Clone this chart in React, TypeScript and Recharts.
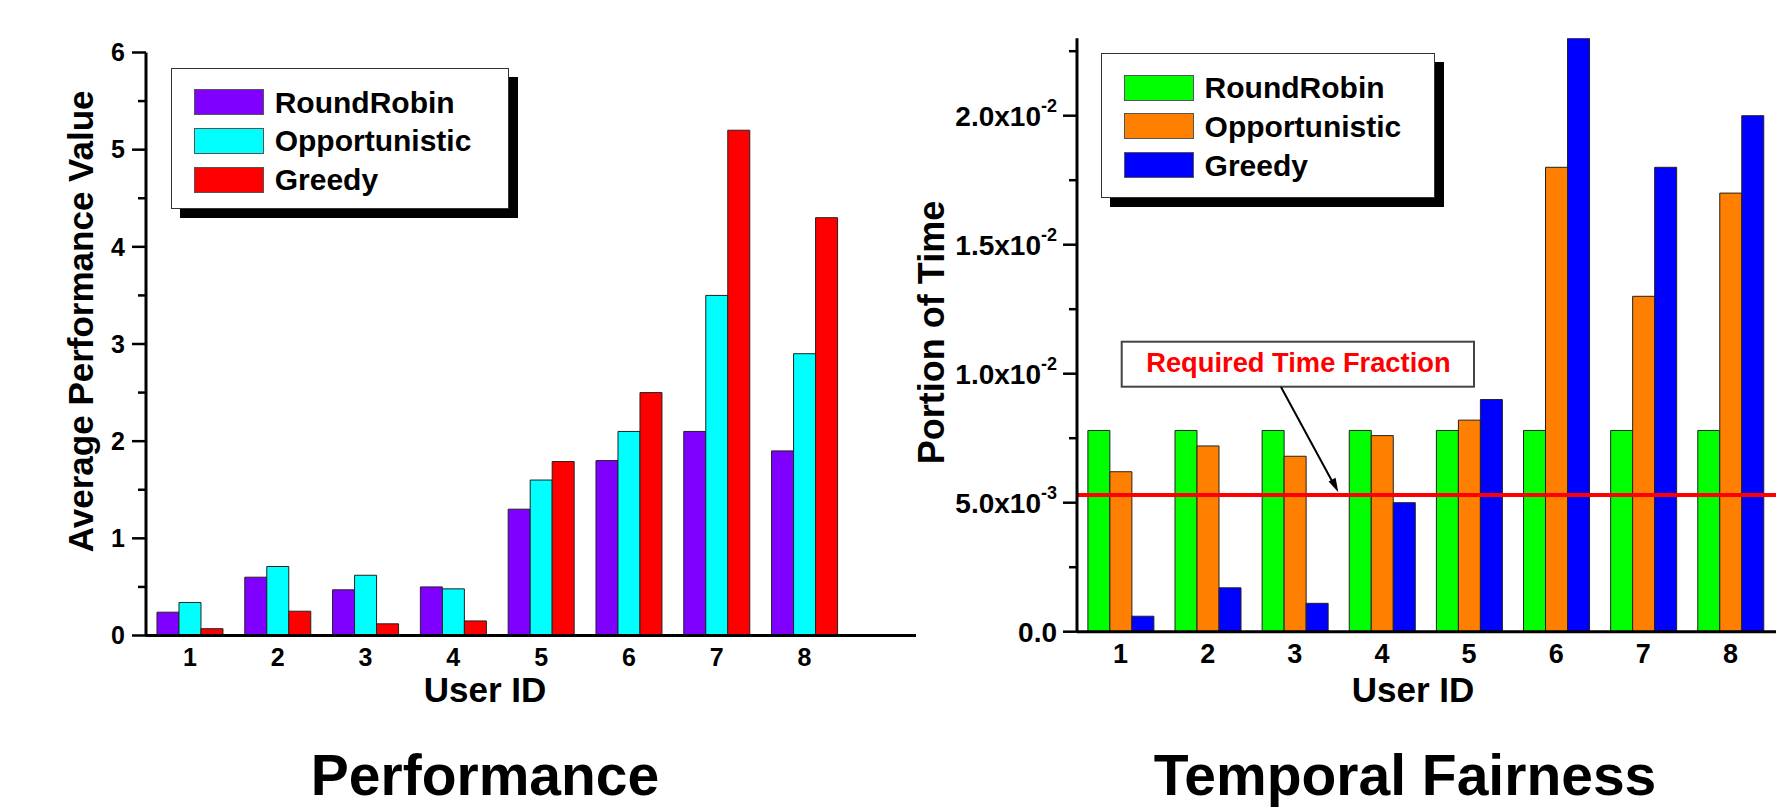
import React from "react";
import { ComposedChart, Bar, XAxis, YAxis, Legend, ReferenceLine } from "recharts";

// Two Origin-style grouped bar charts: performance and temporal fairness per user.

const FONT = "'Liberation Sans', Arial, Helvetica, sans-serif";

const users = ["1", "2", "3", "4", "5", "6", "7", "8"];
const seriesNames = ["RoundRobin", "Opportunistic", "Greedy"];

// left panel: average performance value
const perfRoundRobin = [0.24, 0.6, 0.47, 0.5, 1.3, 1.8, 2.1, 1.9];
const perfOpportunistic = [0.34, 0.71, 0.62, 0.48, 1.6, 2.1, 3.5, 2.9];
const perfGreedy = [0.07, 0.25, 0.12, 0.15, 1.79, 2.5, 5.2, 4.3];
const perfTicks = [0, 0.5, 1, 1.5, 2, 2.5, 3, 3.5, 4, 4.5, 5, 5.5, 6];

// right panel: portion of time
const timeRoundRobin = [0.0078, 0.0078, 0.0078, 0.0078, 0.0078, 0.0078, 0.0078, 0.0078];
const timeOpportunistic = [0.0062, 0.0072, 0.0068, 0.0076, 0.0082, 0.018, 0.013, 0.017];
const timeGreedy = [0.0006, 0.0017, 0.0011, 0.005, 0.009, 0.023, 0.018, 0.02];
const timeTicks = [0, 0.0025, 0.005, 0.0075, 0.01, 0.0125, 0.015, 0.0175, 0.02, 0.0225];
const timeMantissa = ["0.0", "5.0x10", "1.0x10", "1.5x10", "2.0x10"];
const timeExponent = ["", "-3", "-2", "-2", "-2"];
const requiredFraction = 0.0053;

const perfData = users.map((user, i) => ({
  user,
  rr: perfRoundRobin[i],
  opp: perfOpportunistic[i],
  greedy: perfGreedy[i],
}));

const timeData = users.map((user, i) => ({
  user,
  rr: timeRoundRobin[i],
  opp: timeOpportunistic[i],
  greedy: timeGreedy[i],
}));

const axisLine = { stroke: "#000", strokeWidth: 3 };

function BoxLegend(props: any) {
  const payload = [...(props.payload || [])].sort(
    (a: any, b: any) => seriesNames.indexOf(a.value) - seriesNames.indexOf(b.value)
  );
  return (
    <div
      style={{
        position: "relative",
        width: "100%",
        height: "100%",
        boxSizing: "border-box",
        background: "#fff",
        border: "1.5px solid #333",
        boxShadow: "9px 9px 0 #000",
        fontFamily: FONT,
        fontWeight: 700,
        fontSize: 30,
        color: "#000",
      }}
    >
      {payload.map((entry: any, i: number) => (
        <div
          key={entry.value}
          style={{ position: "absolute", left: 22, top: 20 + i * 38.7, height: 27, display: "flex", alignItems: "center", whiteSpace: "nowrap" }}
        >
          <span style={{ display: "inline-block", width: 70, height: 26, boxSizing: "border-box", background: entry.color, border: "1.5px solid #555" }} />
          <span style={{ marginLeft: 11, lineHeight: "27px" }}>{entry.value}</span>
        </div>
      ))}
    </div>
  );
}

function XTick({ x, y, payload, size, drop }: any) {
  return (
    <text x={x} y={y + drop} textAnchor="middle" fontSize={size} fontWeight={700} fontFamily={FONT} fill="#000">
      {payload.value}
    </text>
  );
}

function PerfYTick({ x, y, payload }: any) {
  const major = Number.isInteger(payload.value);
  return (
    <g>
      <line x1={x - (major ? 14 : 8)} x2={x} y1={y} y2={y} stroke="#000" strokeWidth={2.5} />
      {major && (
        <text x={x - 21} y={y + 8.8} textAnchor="end" fontSize={25} fontWeight={700} fontFamily={FONT} fill="#000">
          {payload.value}
        </text>
      )}
    </g>
  );
}

function TimeYTick({ x, y, payload }: any) {
  const idx = timeTicks.indexOf(payload.value);
  const major = idx % 2 === 0;
  const k = idx / 2;
  return (
    <g>
      <line x1={x - (major ? 14 : 8)} x2={x} y1={y} y2={y} stroke="#000" strokeWidth={2.5} />
      {major && (
        <text x={x - 20} y={y + 10} textAnchor="end" fontSize={28} fontWeight={700} fontFamily={FONT} fill="#000">
          <tspan>{timeMantissa[k]}</tspan>
          {timeExponent[k] ? (
            <tspan dy={-14} fontSize={18}>
              {timeExponent[k]}
            </tspan>
          ) : null}
        </text>
      )}
    </g>
  );
}

function PerformanceChart() {
  return (
    <ComposedChart
      width={930}
      height={811}
      data={perfData}
      margin={{ top: 52.5, right: 14, bottom: 0, left: 0 }}
      barCategoryGap="12.5%"
      barGap={0}
    >
      <XAxis
        dataKey="user"
        height={175.5}
        axisLine={axisLine}
        tickLine={false}
        tickSize={0}
        tickMargin={0}
        interval={0}
        padding={{ left: 0, right: 67.6 }}
        tick={(p: any) => <XTick {...p} size={25} drop={30.5} />}
      />
      <YAxis
        width={146}
        domain={[0, 6]}
        ticks={perfTicks}
        interval={0}
        allowDataOverflow
        axisLine={axisLine}
        tickLine={false}
        tickSize={0}
        tickMargin={0}
        tick={(p: any) => <PerfYTick {...p} />}
      />
      <Legend
        layout="vertical"
        align="center"
        verticalAlign="middle"
        content={(p: any) => <BoxLegend {...p} />}
        wrapperStyle={{ left: 170.7, top: 67.7, width: 338.3, height: 141.3 }}
      />
      <Bar dataKey="rr" name={seriesNames[0]} fill="#8000ff" stroke="#222" strokeWidth={1} isAnimationActive={false} />
      <Bar dataKey="opp" name={seriesNames[1]} fill="#00ffff" stroke="#222" strokeWidth={1} isAnimationActive={false} />
      <Bar dataKey="greedy" name={seriesNames[2]} fill="#ff0000" stroke="#222" strokeWidth={1} isAnimationActive={false} />
    </ComposedChart>
  );
}

function FairnessChart() {
  return (
    <ComposedChart
      width={890}
      height={811}
      data={timeData}
      margin={{ top: 38.3, right: 14, bottom: 0, left: 0 }}
      barCategoryGap="12.5%"
      barGap={0}
    >
      <XAxis
        dataKey="user"
        height={179.3}
        axisLine={axisLine}
        tickLine={false}
        tickSize={0}
        tickMargin={0}
        interval={0}
        padding={{ left: 0, right: 2 }}
        tick={(p: any) => <XTick {...p} size={27} drop={31.5} />}
      />
      <YAxis
        width={177}
        domain={[0, 0.023]}
        ticks={timeTicks}
        interval={0}
        allowDataOverflow
        axisLine={axisLine}
        tickLine={false}
        tickSize={0}
        tickMargin={0}
        tick={(p: any) => <TimeYTick {...p} />}
      />
      <Legend
        layout="vertical"
        align="center"
        verticalAlign="middle"
        content={(p: any) => <BoxLegend {...p} />}
        wrapperStyle={{ left: 200.6, top: 53.3, width: 334.4, height: 144.4 }}
      />
      <Bar dataKey="rr" name={seriesNames[0]} fill="#00ff00" stroke="#222" strokeWidth={1} isAnimationActive={false} />
      <Bar dataKey="opp" name={seriesNames[1]} fill="#ff8000" stroke="#222" strokeWidth={1} isAnimationActive={false} />
      <Bar dataKey="greedy" name={seriesNames[2]} fill="#0000ff" stroke="#222" strokeWidth={1} isAnimationActive={false} />
      <ReferenceLine y={requiredFraction} stroke="#ff0000" strokeWidth={4} />
    </ComposedChart>
  );
}

export default function App() {
  const bold = { fontFamily: FONT, fontWeight: 700, fill: "#000" } as const;
  return (
    <div style={{ position: "absolute", left: 0, top: 0, width: 1776, height: 811, overflow: "hidden", background: "#fff" }}>
      <div style={{ position: "absolute", left: 0, top: 0 }}>
        <PerformanceChart />
      </div>
      <div style={{ position: "absolute", left: 900, top: 0 }}>
        <FairnessChart />
      </div>
      <svg width={1776} height={811} style={{ position: "absolute", left: 0, top: 0, pointerEvents: "none" }}>
        <text {...bold} transform="translate(80.5,321.3) rotate(-90)" dy="0.36em" textAnchor="middle" fontSize={35}>
          Average Performance Value
        </text>
        <text {...bold} transform="translate(931,332.5) rotate(-90)" dy="0.36em" textAnchor="middle" fontSize={36}>
          Portion of Time
        </text>
        <text {...bold} x={485} y={702} textAnchor="middle" fontSize={35}>
          User ID
        </text>
        <text {...bold} x={1413} y={702} textAnchor="middle" fontSize={35}>
          User ID
        </text>
        <text {...bold} x={485} y={795} textAnchor="middle" fontSize={57}>
          Performance
        </text>
        <text {...bold} x={1405} y={795} textAnchor="middle" fontSize={57}>
          Temporal Fairness
        </text>
        {/* annotation for the required time fraction line */}
        <rect x={1121.7} y={341.7} width={352.3} height={45} fill="#fff" stroke="#444" strokeWidth={2} />
        <text x={1298.4} y={371.7} textAnchor="middle" fontFamily={FONT} fontWeight={700} fontSize={27.3} fill="#ff0000">
          Required Time Fraction
        </text>
        <line x1={1281} y1={387} x2={1332} y2={481} stroke="#000" strokeWidth={2} />
        <polygon points="1338.3,492.3 1328.6,481.6 1335.6,477.8" fill="#000" />
      </svg>
    </div>
  );
}
